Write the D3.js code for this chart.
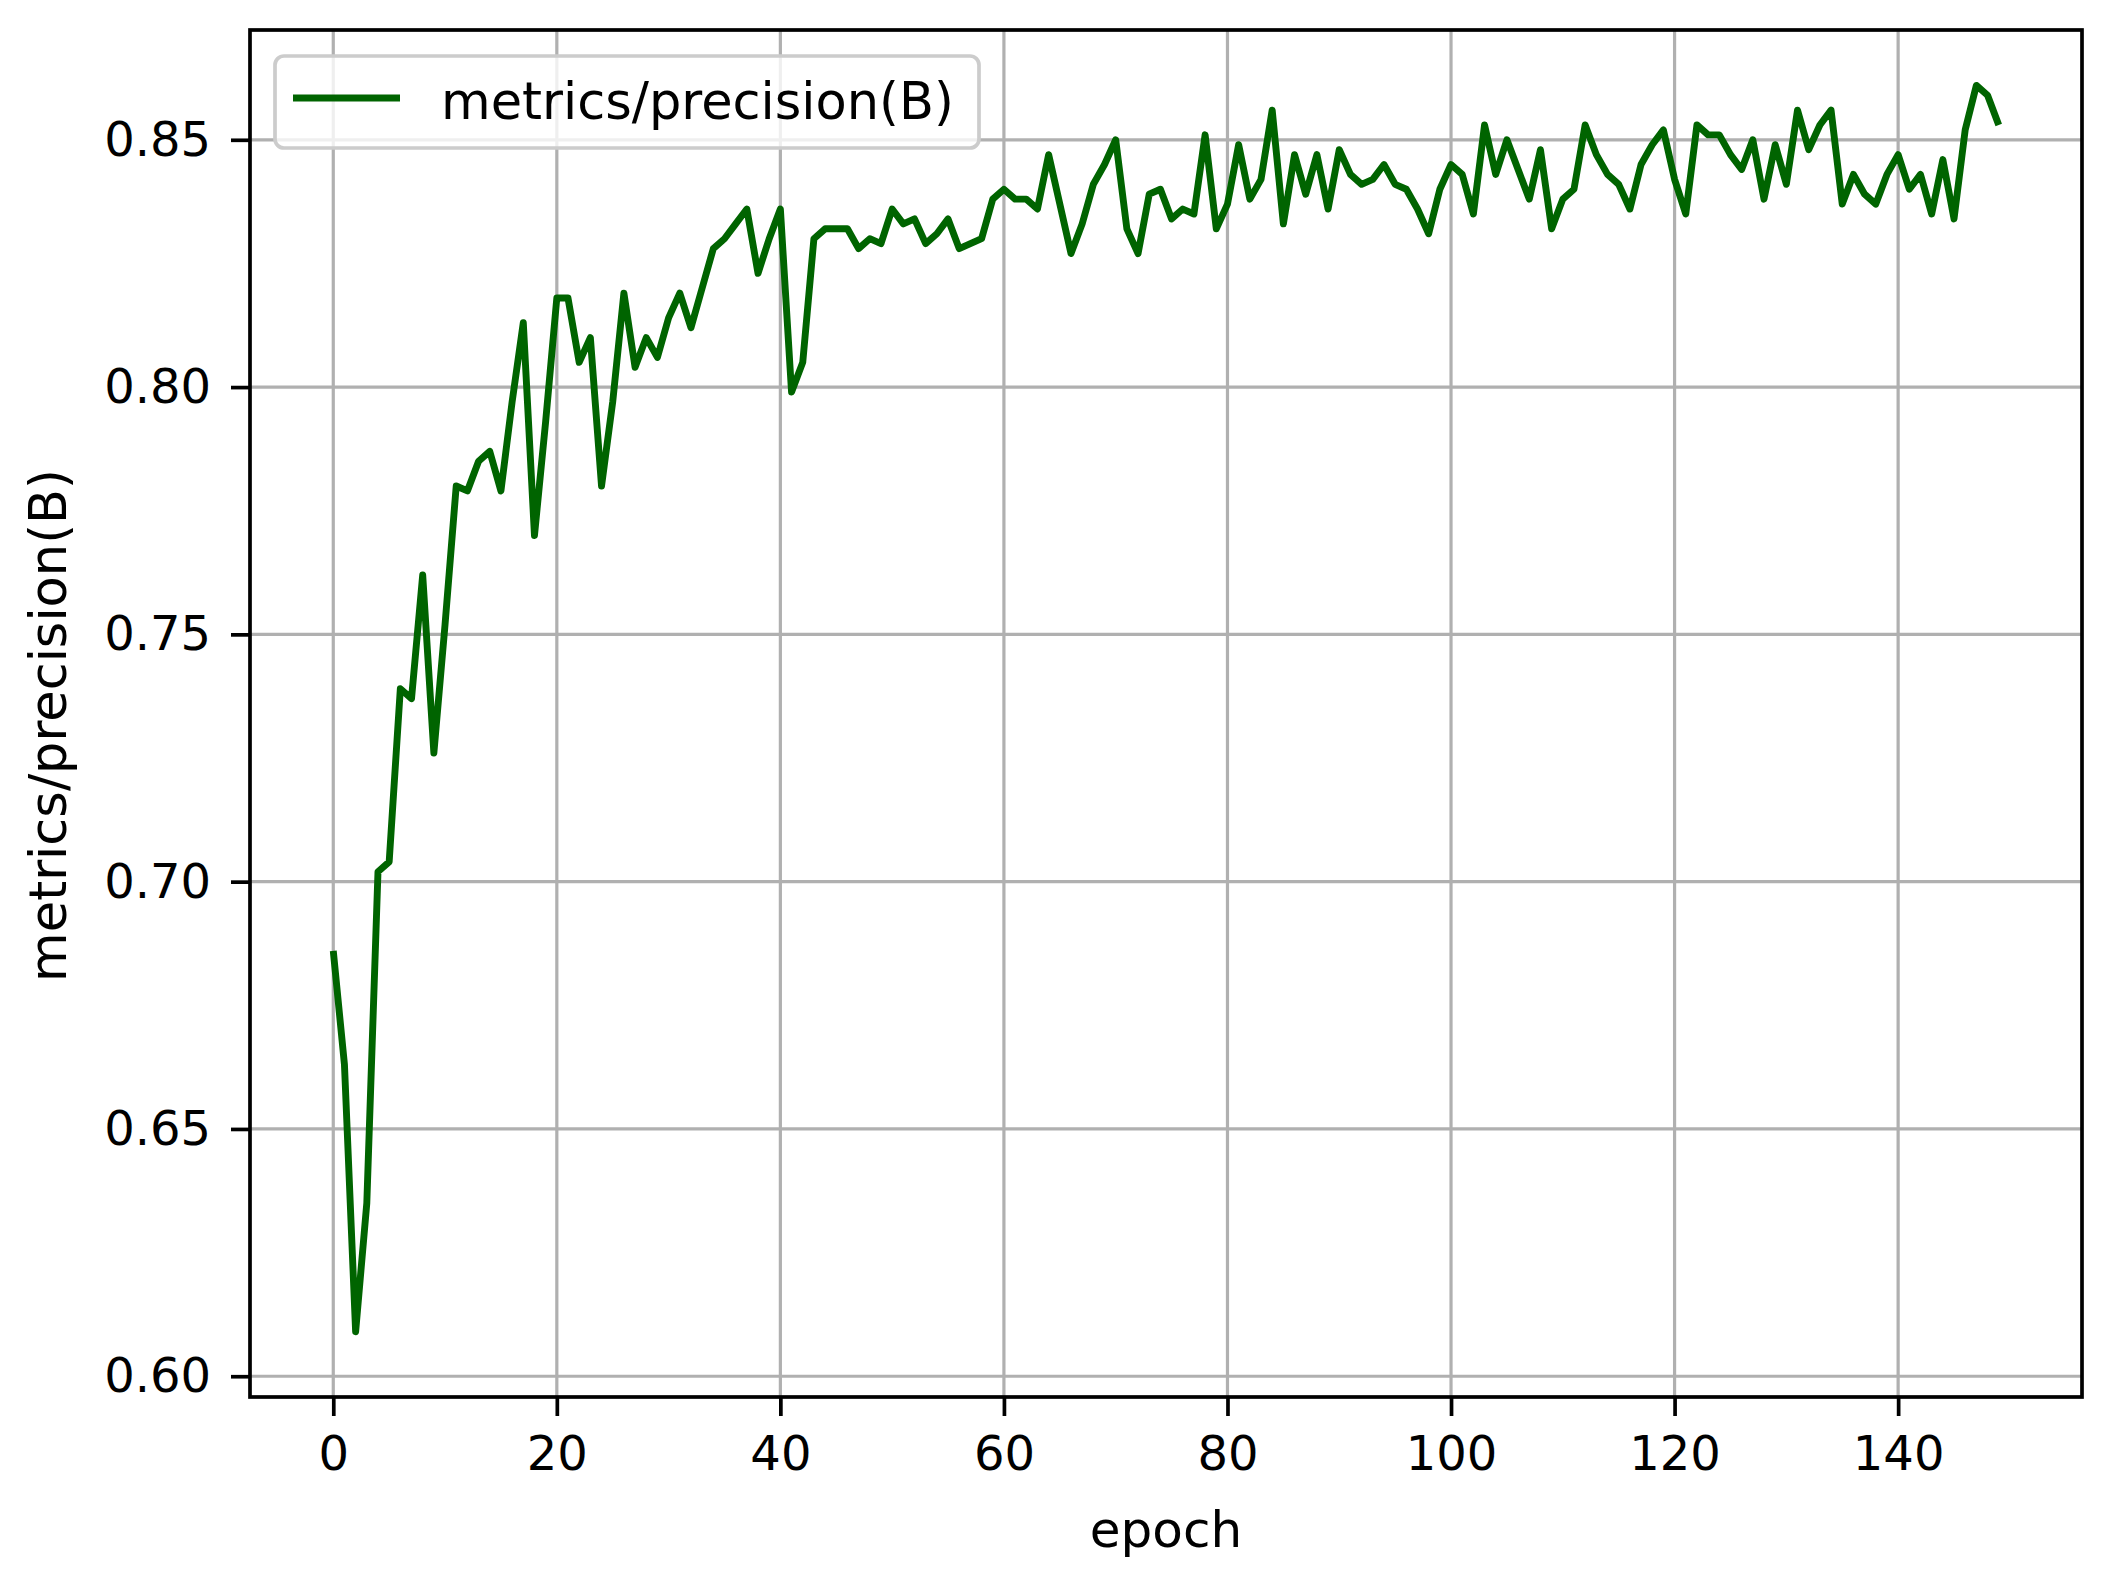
<!DOCTYPE html>
<html>
<head>
<meta charset="utf-8">
<script src="https://cdn.jsdelivr.net/npm/d3@7"></script>
<style>
	body { margin: 0; background: #fff; }
	text { font-family: "DejaVu Sans", sans-serif; fill: #000; }
</style>
</head>
<body>
<div id="chart"></div>
<script>
// epoch 0..149
var epochs = d3.range(0, 150);

// metrics/precision(B)
var precision = [
	0.686, 0.663, 0.609, 0.635, 0.702, 0.704, 0.739, 0.737, 0.762, 0.726,
	0.752, 0.780, 0.779, 0.785, 0.787, 0.779, 0.797, 0.813, 0.770, 0.793,
	0.818, 0.818, 0.805, 0.810, 0.780, 0.797, 0.819, 0.804, 0.810, 0.806,
	0.814, 0.819, 0.812, 0.820, 0.828, 0.830, 0.833, 0.836, 0.823, 0.830,
	0.836, 0.799, 0.805, 0.830, 0.832, 0.832, 0.832, 0.828, 0.830, 0.829,
	0.836, 0.833, 0.834, 0.829, 0.831, 0.834, 0.828, 0.829, 0.830, 0.838,
	0.840, 0.838, 0.838, 0.836, 0.847, 0.837, 0.827, 0.833, 0.841, 0.845,
	0.850, 0.832, 0.827, 0.839, 0.840, 0.834, 0.836, 0.835, 0.851, 0.832,
	0.837, 0.849, 0.838, 0.842, 0.856, 0.833, 0.847, 0.839, 0.847, 0.836,
	0.848, 0.843, 0.841, 0.842, 0.845, 0.841, 0.840, 0.836, 0.831, 0.840,
	0.845, 0.843, 0.835, 0.853, 0.843, 0.850, 0.844, 0.838, 0.848, 0.832,
	0.838, 0.840, 0.853, 0.847, 0.843, 0.841, 0.836, 0.845, 0.849, 0.852,
	0.842, 0.835, 0.853, 0.851, 0.851, 0.847, 0.844, 0.850, 0.838, 0.849,
	0.841, 0.856, 0.848, 0.853, 0.856, 0.837, 0.843, 0.839, 0.837, 0.843,
	0.847, 0.840, 0.843, 0.835, 0.846, 0.834, 0.852, 0.861, 0.859, 0.853
];

var xTicks = [0, 20, 40, 60, 80, 100, 120, 140];
var yTicks = [0.60, 0.65, 0.70, 0.75, 0.80, 0.85];
var seriesName = "metrics/precision(B)";

// figure and axes box
var W = 2111, H = 1580;
var margin = {top: 30, right: 29, bottom: 183, left: 250},
		width = W - margin.left - margin.right,
		height = H - margin.top - margin.bottom;

var svg = d3.select("#chart").append("svg")
		.attr("width", W)
		.attr("height", H);
var g = svg.append("g")
		.attr("transform", "translate(" + margin.left + "," + margin.top + ")");

// matplotlib style 5% margins on x
var pad = (epochs[epochs.length - 1] - epochs[0]) * 0.05;
var x = d3.scaleLinear()
		.domain([epochs[0] - pad, epochs[epochs.length - 1] + pad])
		.range([0, width]);
var y = d3.scaleLinear()
		.domain([0.5958, 0.8722])
		.range([height, 0]);

// grid
g.append("g").selectAll("line").data(xTicks).enter().append("line")
		.attr("x1", function(d){ return x(d); })
		.attr("x2", function(d){ return x(d); })
		.attr("y1", 0).attr("y2", height)
		.style("stroke", "#b0b0b0").style("stroke-width", 3.2);
g.append("g").selectAll("line").data(yTicks).enter().append("line")
		.attr("y1", function(d){ return y(d); })
		.attr("y2", function(d){ return y(d); })
		.attr("x1", 0).attr("x2", width)
		.style("stroke", "#b0b0b0").style("stroke-width", 3.2);

// the line
var valueline = d3.line()
		.x(function(d, i){ return x(epochs[i]); })
		.y(function(d){ return y(d); });
g.append("path")
		.datum(precision)
		.attr("d", valueline)
		.style("fill", "none")
		.style("stroke", "#006400")
		.style("stroke-width", 6.9)
		.style("stroke-linejoin", "round");

// axes
var xAxis = g.append("g")
		.attr("transform", "translate(0," + height + ")")
		.call(d3.axisBottom(x).tickValues(xTicks).tickSize(19).tickPadding(20)
			.tickFormat(d3.format("d")));
var yAxis = g.append("g")
		.call(d3.axisLeft(y).tickValues(yTicks).tickSize(19).tickPadding(20)
			.tickFormat(d3.format(".2f")));
[xAxis, yAxis].forEach(function(a){
	a.select(".domain").remove();
	a.selectAll(".tick line").style("stroke", "#000").style("stroke-width", 3.7);
	a.selectAll(".tick text").style("font-size", "48px")
		.style("font-family", "DejaVu Sans").style("fill", "#000");
});

// spines
g.append("rect")
		.attr("width", width).attr("height", height)
		.style("fill", "none").style("stroke", "#000").style("stroke-width", 3.7);

// axis labels
svg.append("text")
		.attr("x", margin.left + width / 2)
		.attr("y", 1547)
		.attr("text-anchor", "middle")
		.style("font-size", "50px")
		.text("epoch");
svg.append("text")
		.attr("transform", "translate(66," + (margin.top + height / 2 + 12) + ") rotate(-90)")
		.attr("text-anchor", "middle")
		.style("font-size", "51px")
		.text(seriesName);

// legend
var leg = svg.append("g");
leg.append("rect")
		.attr("x", 275).attr("y", 56)
		.attr("width", 704).attr("height", 92)
		.attr("rx", 9)
		.style("fill", "#fff").style("fill-opacity", 0.8)
		.style("stroke", "#cccccc").style("stroke-width", 3.7);
leg.append("line")
		.attr("x1", 293).attr("x2", 400)
		.attr("y1", 98).attr("y2", 98)
		.style("stroke", "#006400").style("stroke-width", 6.9);
leg.append("text")
		.attr("x", 441).attr("y", 119)
		.style("font-size", "51px")
		.text(seriesName);
</script>
</body>
</html>
